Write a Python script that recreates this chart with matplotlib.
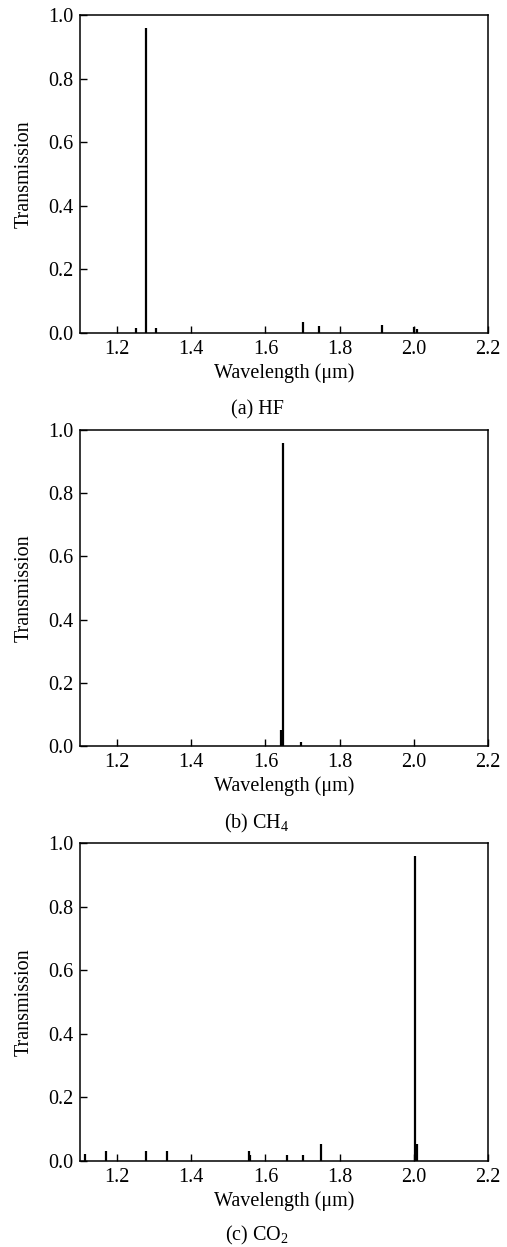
import matplotlib
matplotlib.use('Agg')
import matplotlib.pyplot as plt

plt.rcParams['font.family'] = ['Liberation Serif', 'DejaVu Serif']
plt.rcParams['mathtext.fontset'] = 'custom'
plt.rcParams['mathtext.rm'] = 'Liberation Serif'
plt.rcParams['mathtext.default'] = 'regular'

# transmission lines (wavelength in um, transmission)
hf_wl = [1.250, 1.277, 1.305, 1.702, 1.745, 1.915, 2.000, 2.008]
hf_tr = [0.016, 0.960, 0.015, 0.034, 0.023, 0.026, 0.020, 0.014]

ch4_wl = [1.643, 1.646, 1.695]
ch4_tr = [0.050, 0.960, 0.014]

co2_wl = [1.114, 1.170, 1.278, 1.335, 1.555, 1.559, 1.658, 1.700, 1.749, 2.002, 2.009]
co2_tr = [0.021, 0.031, 0.031, 0.031, 0.031, 0.019, 0.019, 0.019, 0.055, 0.960, 0.055]

xticks = [1.2, 1.4, 1.6, 1.8, 2.0, 2.2]
yticks = [0.0, 0.2, 0.4, 0.6, 0.8, 1.0]
captions = ['(a) HF', '(b) CH$_4$', '(c) CO$_2$']

W, H = 507, 1247
fig = plt.figure(figsize=(W / 100, H / 100), dpi=100)

# axes boxes in pixels: (top, bottom)
boxes = [(15, 333), (430, 746), (843, 1161)]
caption_y = [410, 823, 1235]
left, right = 80, 488
fs = 14.5

series = [(hf_wl, hf_tr), (ch4_wl, ch4_tr), (co2_wl, co2_tr)]

for i, (wl, tr) in enumerate(series):
    top, bot = boxes[i]
    ax = fig.add_axes([left / W, (H - bot) / H, (right - left) / W, (bot - top) / H])
    ax.vlines(wl, 0, tr, color='black', lw=1.6)
    ax.set_xlim(1.1, 2.2)
    ax.set_ylim(0, 1.0)
    ax.set_xticks(xticks)
    ax.set_yticks(yticks)
    ax.set_xticklabels(['%.1f' % t for t in xticks])
    ax.set_yticklabels(['%.1f' % t for t in yticks])
    ax.tick_params(direction='in', length=5, width=1.0, labelsize=fs, pad=5)
    for s in ax.spines.values():
        s.set_linewidth(1.1)
    ax.set_xlabel('Wavelength (\u03bcm)', fontsize=fs, labelpad=3)
    ax.set_ylabel('Transmission', fontsize=fs, labelpad=10)
    fig.text(257 / W, 1 - caption_y[i] / H, captions[i], fontsize=fs,
             ha='center', va='center')

fig.savefig('out.png', dpi=100)
